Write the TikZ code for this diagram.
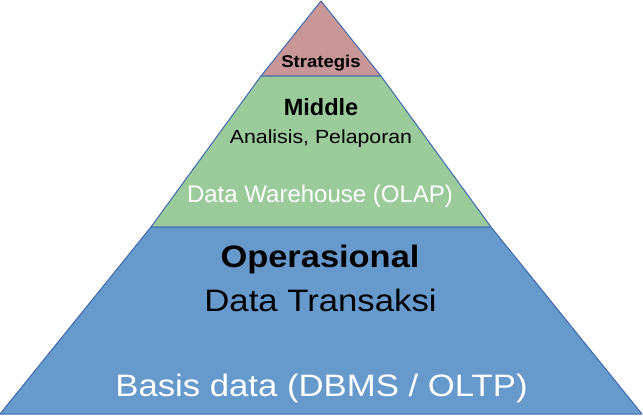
\documentclass[tikz,border=0pt]{standalone}
\usepackage{fontspec}
\setmainfont{Liberation Sans}
\definecolor{topred}{HTML}{C89696}
\definecolor{midgreen}{HTML}{9BCB9A}
\definecolor{lowblue}{HTML}{6699CC}
\definecolor{edgeblue}{HTML}{3C6AAE}
\newcommand{\fs}[1]{\fontsize{#1}{#1}\selectfont}
% one band of the pyramid: top y, top half width, bottom y, bottom half width, fill
\newcommand{\band}[5]{\draw[edgeblue,line width=1pt,line join=round,fill=#5] (321-#2,#1) -- (321+#2,#1) -- (321+#4,#3) -- (321-#4,#3) -- cycle;}
\tikzset{lbl/.style={anchor=base,inner sep=0pt,transform shape}}

\begin{document}
\begin{tikzpicture}[x=1pt,y=-1pt]
  \useasboundingbox (0,0) rectangle (643,416);
  \band{1}{0}{76}{60}{topred}
  \band{76}{60}{227}{170}{midgreen}
  \band{227}{170}{414}{321}{lowblue}
  % top
  \node[lbl,font=\fs{17}\bfseries,xscale=1.09] (strategis) at (321,67) {Strategis};
  % middle
  \node[lbl,font=\fs{23.5}\bfseries] (middle) at (321,115) {Middle};
  \node[lbl,font=\fs{19}\selectfont,xscale=1.12] (analisis) at (321,143) {Analisis, Pelaporan};
  \node[lbl,font=\fs{24},text=white] (olap) at (320,202) {Data Warehouse (OLAP)};
  % bottom
  \node[lbl,font=\fs{31}\bfseries,xscale=1.11] (operasional) at (320,267) {Operasional};
  \node[lbl,font=\fs{31},xscale=1.12] (transaksi) at (320.5,311.5) {Data Transaksi};
  \node[lbl,font=\fs{31},xscale=1.12,text=white] (oltp) at (321.5,396.5) {Basis data (DBMS / OLTP)};
\end{tikzpicture}
\end{document}
